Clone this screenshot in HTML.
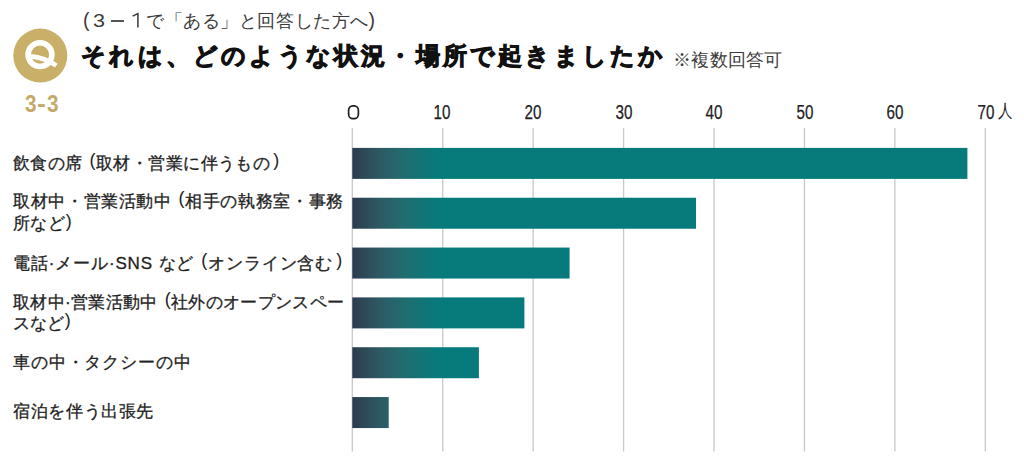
<!DOCTYPE html>
<html><head><meta charset="utf-8">
<style>
html,body{margin:0;padding:0;background:#fff;}
body{width:1024px;height:461px;position:relative;overflow:hidden;font-family:"Liberation Sans",sans-serif;color:#222;}
.abs{position:absolute;white-space:nowrap;line-height:1;}
.lbl{position:absolute;white-space:nowrap;line-height:1;font-size:17px;color:#222;left:13px;-webkit-text-stroke:0.3px #222;}
.sub{color:#3a3a3a;}
.g33{top:92.7px;font-size:23px;font-weight:bold;color:#c4aa68;transform:scaleX(0.9);transform-origin:0 0;}
.po{margin-left:6.9px;font-size:18px;-webkit-text-stroke:0;position:relative;top:-2.5px;}
.pc{margin-left:3px;font-size:18px;-webkit-text-stroke:0;position:relative;top:-2.5px;}
.tick{position:absolute;top:101.7px;width:0;height:20px;}
.tick span{position:absolute;left:0;top:0;font-size:20px;line-height:1;color:#1e1e1e;transform:translateX(-50%) scaleX(0.76);-webkit-text-stroke:0.25px #1e1e1e;}
</style></head><body>
<svg class="abs" style="left:0;top:0" width="80" height="90" viewBox="0 0 80 90">
  <circle cx="40.3" cy="55.6" r="27" fill="#c9af68"/>
  <circle cx="40" cy="54.6" r="11.9" fill="none" stroke="#fff" stroke-width="5.6"/>
  <path d="M30.5 56.4 C37 56.9, 46 58.4, 56.3 65.6" fill="none" stroke="#fff" stroke-width="4.8"/>
</svg>
<div class="abs g33" style="left:24.8px;">3</div><div class="abs g33" style="left:37.0px;transform:scaleX(1.15)">-</div><div class="abs g33" style="left:47.0px;">3</div>
<div class="abs sub" style="left:83px;top:11px;font-size:19.5px;">(</div>
<div class="abs sub" style="left:93px;top:12px;font-size:18px;transform:scaleX(1.2);transform-origin:0 0;">3</div>
<div class="abs" style="left:111.4px;top:20.4px;width:12.3px;height:1.2px;background:#555;"></div>
<svg class="abs" style="left:0;top:0" width="160" height="40"><path d="M132.6 16.2 L137.9 13.6 L137.9 27.6" fill="none" stroke="#3a3a3a" stroke-width="1.5"/></svg>
<div class="abs sub" style="left:146px;top:12px;font-size:18px;letter-spacing:0.57px;">で「ある」と回答した方へ</div>
<div class="abs sub" style="left:368.5px;top:11px;font-size:19.5px;">)</div>
<div class="abs" style="left:81.3px;top:44px;font-size:24px;letter-spacing:3.2px;font-weight:bold;color:#111;-webkit-text-stroke:1px #111;">それは、どのような状況・場所で起きましたか</div>
<div class="abs" style="left:673px;top:51px;font-size:18px;letter-spacing:0.3px;color:#3c3c3c;">※複数回答可</div>


<svg class="abs" style="left:0;top:0" width="1024" height="461" viewBox="0 0 1024 461">
<defs><linearGradient id="bg" gradientUnits="userSpaceOnUse" x1="352.3" y1="0" x2="437.3" y2="0">
<stop offset="0" stop-color="#2c394d"/><stop offset="0.106" stop-color="#2e4656"/><stop offset="0.33" stop-color="#2d5a65"/><stop offset="0.61" stop-color="#216d70"/><stop offset="1" stop-color="#077a7b"/></linearGradient></defs>
<rect x="351.65" y="128" width="1.3" height="323.5" fill="#c9c9c9"/><rect x="442.08" y="128" width="1.3" height="323.5" fill="#c9c9c9"/><rect x="532.51" y="128" width="1.3" height="323.5" fill="#c9c9c9"/><rect x="622.94" y="128" width="1.3" height="323.5" fill="#c9c9c9"/><rect x="713.37" y="128" width="1.3" height="323.5" fill="#c9c9c9"/><rect x="803.80" y="128" width="1.3" height="323.5" fill="#c9c9c9"/><rect x="894.23" y="128" width="1.3" height="323.5" fill="#c9c9c9"/><rect x="984.66" y="128" width="1.3" height="323.5" fill="#c9c9c9"/>
<rect x="352.3" y="147.90" width="615.10" height="31" fill="url(#bg)"/><rect x="352.3" y="197.73" width="343.70" height="31" fill="url(#bg)"/><rect x="352.3" y="247.56" width="217.30" height="31" fill="url(#bg)"/><rect x="352.3" y="297.39" width="172.10" height="31" fill="url(#bg)"/><rect x="352.3" y="347.22" width="126.60" height="31" fill="url(#bg)"/><rect x="352.3" y="397.05" width="36.40" height="31" fill="url(#bg)"/>
</svg>
<svg class="abs" style="left:340px;top:98px" width="30" height="28"><rect x="8.6" y="7.9" width="9.8" height="12.7" rx="4.2" ry="4.4" fill="none" stroke="#1e1e1e" stroke-width="1.7"/></svg>
<div class="tick" style="left:442.3px"><span>10</span></div>
<div class="tick" style="left:533.2px"><span>20</span></div>
<div class="tick" style="left:623.6px"><span>30</span></div>
<div class="tick" style="left:714px"><span>40</span></div>
<div class="tick" style="left:804.5px"><span>50</span></div>
<div class="tick" style="left:894.9px"><span>60</span></div>
<div class="tick" style="left:985.6px"><span>70</span></div>
<div class="abs" style="left:997.5px;top:102px;font-size:18px;color:#1e1e1e;transform:scaleX(0.8);transform-origin:0 0;">人</div>


<div class="lbl" style="top:153.5px;letter-spacing:0.42px">飲食の席<span class="po">(</span>取材・営業に伴うもの<span class="pc">)</span></div>
<div class="lbl" style="top:191.5px;letter-spacing:0.63px">取材中・営業活動中<span class="po">(</span>相手の執務室・事務</div>
<div class="lbl" style="top:214.3px;letter-spacing:0.27px">所など<span class="pc" style="margin-left:1px">)</span></div>
<div class="lbl" style="top:253.5px;letter-spacing:0.87px">電話·メール·SNS など<span class="po">(</span>オンライン含む<span class="pc">)</span></div>
<div class="lbl" style="top:292.5px;letter-spacing:0.34px">取材中·営業活動中<span class="po">(</span>社外のオープンスペー</div>
<div class="lbl" style="top:313.5px;letter-spacing:0px">スなど<span class="pc" style="margin-left:0.8px">)</span></div>
<div class="lbl" style="top:353.8px;letter-spacing:0.86px">車の中・タクシーの中</div>
<div class="lbl" style="top:403.3px;letter-spacing:0.64px">宿泊を伴う出張先</div>
</body></html>
